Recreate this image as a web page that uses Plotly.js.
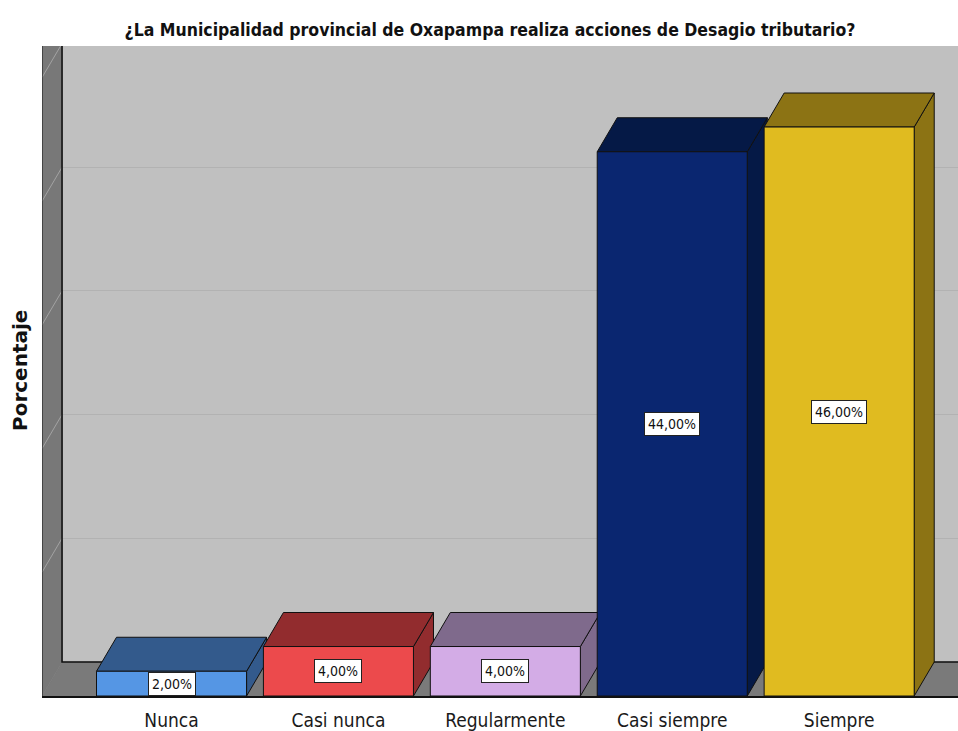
<!DOCTYPE html>
<html>
<head>
<meta charset="utf-8">
<script src="https://cdn.plot.ly/plotly-3.0.1.min.js"></script>
<style>html,body{margin:0;padding:0;background:#fff;}#chart{width:958px;height:731px;}</style>
</head>
<body>
<div id="chart"></div>
<script>
// ---- data ----
const categories = ['Nunca', 'Casi nunca', 'Regularmente', 'Casi siempre', 'Siempre'];
const percentages = [2, 4, 4, 44, 46];
const valueLabels = ['2,00%', '4,00%', '4,00%', '44,00%', '46,00%'];
const chartTitle = '¿La Municipalidad provincial de Oxapampa realiza acciones de Desagio tributario?';
const yTitle = 'Porcentaje';

// ---- styles ----
const frontColors = ['#5596e4', '#ec4a4c', '#d3ace6', '#0a2670', '#e0bb20'];
const shadeColors = ['#335a8c', '#922c2e', '#7f6a8c', '#051946', '#8c7314'];
const NARROW = '"Liberation Sans Narrow", "Arial Narrow", "DejaVu Sans Condensed", sans-serif';
const BAR_W = 0.899;      // bar width in category units
const DX = 0.12;          // depth offset (category units)
const DY = 2.75;          // depth offset (percent units)
const X_RANGE = [-0.776, 4.712];
const Y_RANGE = [0, 52.55];
const GRID_STEP = 10;
const WALL = '#7a7a7a';
const BACK = '#c0c0c0';

const idx = categories.map((c, i) => i);
const traces = [];
const poly = (xs, ys, fill, line, lw) => ({
  type: 'scatter', mode: 'lines', x: xs, y: ys, fill: 'toself', fillcolor: fill,
  line: {color: line, width: lw}, hoverinfo: 'skip', showlegend: false, xaxis: 'x', yaxis: 'y'
});
const TOP = 200;
const xL = X_RANGE[0], xR = X_RANGE[1] + 1;
// floor
traces.push(poly([xL, xR, xR + DX, xL + DX, xL], [0, 0, DY, DY, 0], WALL, WALL, 0.5));
// left wall
traces.push(poly([xL, xL + DX, xL + DX, xL, xL], [0, DY, TOP, TOP, 0], '#787878', '#787878', 0.5));
// wall grid diagonals
for (let g = GRID_STEP; g <= Y_RANGE[1] + GRID_STEP; g += GRID_STEP) {
  traces.push({type: 'scatter', mode: 'lines', x: [xL + DX, xL], y: [g + DY, g],
    line: {color: '#a3a3a3', width: 1}, hoverinfo: 'skip', showlegend: false});
}
// back wall edges
traces.push({type: 'scatter', mode: 'lines', x: [xL + DX, xL + DX, xR + DX], y: [TOP, DY, DY],
  line: {color: '#111', width: 1.6}, hoverinfo: 'skip', showlegend: false});
// front left edge
traces.push({type: 'scatter', mode: 'lines', x: [xL, xL], y: [0, TOP],
  line: {color: '#222', width: 1.2}, hoverinfo: 'skip', showlegend: false});

// 3D faces of each bar (from data)
idx.forEach(i => {
  const v = percentages[i];
  const x0 = i - BAR_W / 2, x1 = i + BAR_W / 2;
  traces.push(poly([x1, x1, x1 + DX, x1 + DX, x1], [0, v, v + DY, DY, 0], shadeColors[i], '#111', 1));
  traces.push(poly([x0, x1, x1 + DX, x0 + DX, x0], [v, v, v + DY, v + DY, v], shadeColors[i], '#111', 1));
});

// front faces (bars)
traces.push({
  type: 'bar', x: idx, y: percentages, width: BAR_W, xaxis: 'x2', yaxis: 'y2',
  marker: {color: frontColors, line: {color: '#111', width: 1}},
  hoverinfo: 'x+y', showlegend: false
});

const annotations = idx.map(i => ({
  x: i, y: percentages[i] / 2, xref: 'x', yref: 'y', text: valueLabels[i], showarrow: false,
  bgcolor: '#ffffff', bordercolor: '#222', borderwidth: 1, borderpad: 3,
  font: {family: NARROW, size: 14, color: '#111'}
}));
annotations.push({
  text: '<b>' + yTitle + '</b>', xref: 'paper', yref: 'paper', x: -22 / 916, y: 0.5,
  textangle: -90, showarrow: false, xanchor: 'center', yanchor: 'middle',
  font: {family: '"DejaVu Sans", sans-serif', size: 20, color: '#111'}
});

const gridVals = [];
for (let g = GRID_STEP; g + DY <= Y_RANGE[1]; g += GRID_STEP) gridVals.push(g + DY);

const layout = {
  width: 958, height: 731,
  margin: {l: 42, r: 0, t: 46, b: 35, pad: 0},
  paper_bgcolor: '#ffffff', plot_bgcolor: BACK,
  title: {text: '<b>' + chartTitle + '</b>', xref: 'container', yref: 'container',
    x: 490 / 958, y: 1 - 30 / 731, xanchor: 'center', yanchor: 'middle',
    font: {family: NARROW, size: 17.5, color: '#111'}},
  xaxis: {range: X_RANGE, tickvals: idx, ticktext: categories, showgrid: false, zeroline: false,
    showline: true, linecolor: '#111', linewidth: 1.5, ticks: '', fixedrange: true,
    ticklabelstandoff: 7,
    tickfont: {family: NARROW, size: 19, color: '#1a1a1a'}},
  yaxis: {range: Y_RANGE, tickvals: gridVals, showticklabels: false, ticks: '', showgrid: true,
    gridcolor: '#b2b2b2', gridwidth: 1, zeroline: false, showline: false, fixedrange: true},
  xaxis2: {range: X_RANGE, overlaying: 'x', visible: false, fixedrange: true},
  yaxis2: {range: Y_RANGE, overlaying: 'y', visible: false, fixedrange: true},
  annotations: annotations,
  showlegend: false
};

Plotly.newPlot('chart', traces, layout, {displayModeBar: false, staticPlot: true});
</script>
</body>
</html>
